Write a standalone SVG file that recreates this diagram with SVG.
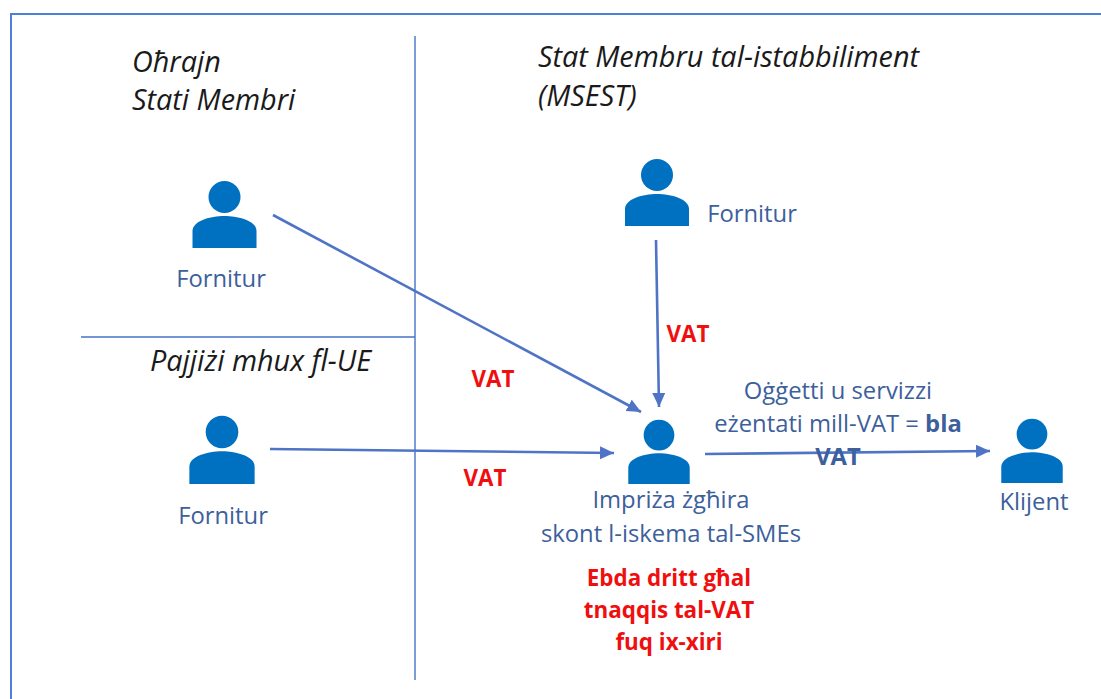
<svg xmlns="http://www.w3.org/2000/svg" width="1101" height="699" viewBox="0 0 1101 699">
<style>
text{font-family:"Open Sans","Noto Sans","DejaVu Sans",sans-serif}
.t{font-size:23.8px;fill:#3d5f9c;text-anchor:middle}
.i{font-size:28.8px;font-style:italic;fill:#1a1a1a}
.r{font-size:22.4px;font-weight:700;fill:#f00f0f;text-anchor:middle}
.l{fill:none;stroke:#4472c4;stroke-width:1.4}
.c{fill:none;stroke:#4f74c6;stroke-width:2.6;marker-end:url(#a)}
</style>
<defs>
<marker id="a" markerUnits="userSpaceOnUse" markerWidth="15" markerHeight="14" refX="14" refY="6.5" orient="auto"><path d="M0 0L14 6.5L0 13Z" fill="#4f74c6"/></marker>
<g id="p" fill="#0070c0"><circle cx="0" cy="-51" r="16"/><path d="M-32 0V-17C-32-27-14-32 0-32C14-32 32-27 32-17V0Z"/></g>
</defs>
<path d="M11 699V14H1101" fill="none" stroke="#4f7fd6" stroke-width="2"/>
<g id="dividers"><path class="l" d="M415 36V680"/><path class="l" d="M81 337H415"/></g>
<g id="headings">
<text class="i" x="132" y="72">Oħrajn</text>
<text class="i" x="132" y="110">Stati Membri</text>
<text class="i" x="538" y="67">Stat Membru tal-istabbiliment</text>
<text class="i" x="538" y="106">(MSEST)</text>
<text class="i" x="150" y="371">Pajjiżi mhux fl-UE</text>
</g>
<g id="connectors">
<path class="c" d="M273 215L641 412"/>
<path class="c" d="M270 449L614 453"/>
<path class="c" d="M656 240L659 407"/>
<path class="c" d="M705 454L990 451"/>
</g>
<g id="n1"><use href="#p" x="224.5" y="248"/><text class="t" x="221" y="287">Fornitur</text></g>
<g id="n2"><use href="#p" x="657" y="226"/><text class="t" x="752" y="222">Fornitur</text></g>
<g id="n3"><use href="#p" transform="translate(222 484) scale(1.02)"/><text class="t" x="223" y="524">Fornitur</text></g>
<g id="n4"><use href="#p" transform="translate(659 484) scale(.96)"/><text class="t" x="671" y="508">Impriża żgħira</text><text class="t" x="671" y="542">skont l-iskema tal-SMEs</text></g>
<g id="n5"><use href="#p" transform="translate(1032 483) scale(.96)"/><text class="t" x="1034" y="510">Klijent</text></g>
<g id="labels">
<text class="r" x="688" y="342">VAT</text>
<text class="r" x="493" y="387">VAT</text>
<text class="r" x="485" y="486">VAT</text>
<text class="t" x="838" y="399">Oġġetti u servizzi</text>
<text class="t" x="838" y="432">eżentati mill-VAT = <tspan font-weight="700">bla</tspan></text>
<text class="t" x="838" y="465" font-weight="700">VAT</text>
<text class="r" x="669" y="586">Ebda dritt għal</text>
<text class="r" x="669" y="618">tnaqqis tal-VAT</text>
<text class="r" x="669" y="650">fuq ix-xiri</text>
</g>
</svg>
